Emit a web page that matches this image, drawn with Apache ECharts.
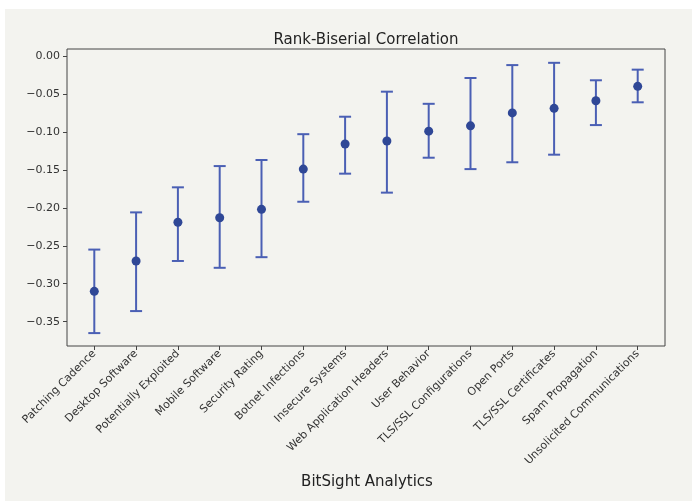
<!DOCTYPE html>
<html>
<head>
<meta charset="utf-8">
<script src="https://cdn.jsdelivr.net/npm/echarts@6/dist/echarts.min.js"></script>
<style>
  html, body { margin: 0; padding: 0; background: #ffffff; overflow: hidden; }
  #chart { width: 692px; height: 501px; }
</style>
</head>
<body>
<div id="chart"></div>
<script>
// Risk vectors, ordered by effect size
const categories = [
  'Patching Cadence', 'Desktop Software', 'Potentially Exploited', 'Mobile Software',
  'Security Rating', 'Botnet Infections', 'Insecure Systems', 'Web Application Headers',
  'User Behavior', 'TLS/SSL Configurations', 'Open Ports', 'TLS/SSL Certificates',
  'Spam Propagation', 'Unsolicited Communications'
];
// Rank-biserial correlation estimate
const estimate = [
  -0.310, -0.270, -0.219, -0.213, -0.202, -0.149, -0.116,
  -0.112, -0.099, -0.092, -0.075, -0.069, -0.059, -0.040
];
// Confidence interval bounds
const lower = [
  -0.365, -0.336, -0.270, -0.279, -0.265, -0.192, -0.155,
  -0.180, -0.134, -0.149, -0.140, -0.130, -0.091, -0.061
];
const upper = [
  -0.255, -0.206, -0.173, -0.145, -0.137, -0.103, -0.080,
  -0.047, -0.063, -0.029, -0.012, -0.009, -0.032, -0.018
];
const yTicks = [0, -0.05, -0.10, -0.15, -0.20, -0.25, -0.30, -0.35];

const font = 'DejaVu Sans';
const ink = '#333333';
const barColor = '#4a5fb4';
const dotColor = '#2f4796';

const xIdx = categories.map((_, i) => i);

const chart = echarts.init(document.getElementById('chart'), null, { renderer: 'canvas' });
chart.setOption({
  animation: false,
  backgroundColor: '#ffffff',
  graphic: [{
    type: 'rect',
    z: -10,
    shape: { x: 5, y: 9, width: 700, height: 500 },
    style: { fill: '#f3f3ef' }
  }],
  title: [
    {
      text: 'Rank-Biserial Correlation',
      left: 361, top: 28, textAlign: 'center',
      textStyle: { fontFamily: font, fontSize: 15, fontWeight: 'normal', color: '#222' }
    },
    {
      text: 'BitSight Analytics',
      left: 362, top: 470, textAlign: 'center',
      textStyle: { fontFamily: font, fontSize: 15, fontWeight: 'normal', color: '#222' }
    }
  ],
  grid: {
    left: 67, right: 27, top: 49, bottom: 155,
    show: true, borderColor: '#444', borderWidth: 1, backgroundColor: 'transparent'
  },
  xAxis: {
    type: 'value',
    min: -0.653, max: 13.653,
    splitLine: { show: false },
    axisLine: { show: false, onZero: false },
    axisTick: { show: true, length: 4, lineStyle: { color: '#444' }, customValues: xIdx },
    axisLabel: {
      customValues: xIdx,
      rotate: 45, margin: 6,
      fontFamily: font, fontSize: 11, color: ink,
      formatter: v => categories[Math.round(v)]
    }
  },
  yAxis: {
    type: 'value',
    min: -0.382, max: 0.0092,
    splitLine: { show: false },
    axisLine: { show: false, onZero: false },
    axisTick: { show: true, length: 4, lineStyle: { color: '#444' }, customValues: yTicks },
    axisLabel: {
      customValues: yTicks,
      margin: 7,
      fontFamily: font, fontSize: 11, color: ink,
      formatter: v => (v < 0 ? '\u2212' : '') + Math.abs(v).toFixed(2)
    }
  },
  series: [
    {
      type: 'custom',
      data: xIdx.map(i => [i, lower[i], upper[i]]),
      encode: { x: 0, y: [1, 2] },
      renderItem: (params, api) => {
        const x = api.value(0);
        const lo = api.coord([x, api.value(1)]);
        const hi = api.coord([x, api.value(2)]);
        const cap = 6;
        const style = { stroke: barColor, lineWidth: 2, fill: null };
        return {
          type: 'group',
          children: [
            { type: 'line', shape: { x1: lo[0], y1: lo[1], x2: hi[0], y2: hi[1] }, style },
            { type: 'line', shape: { x1: lo[0] - cap, y1: lo[1], x2: lo[0] + cap, y2: lo[1] }, style },
            { type: 'line', shape: { x1: hi[0] - cap, y1: hi[1], x2: hi[0] + cap, y2: hi[1] }, style }
          ]
        };
      }
    },
    {
      type: 'scatter',
      data: xIdx.map(i => [i, estimate[i]]),
      symbol: 'circle',
      symbolSize: 9,
      itemStyle: { color: dotColor, opacity: 1 },
      z: 5
    }
  ]
});
</script>
</body>
</html>
